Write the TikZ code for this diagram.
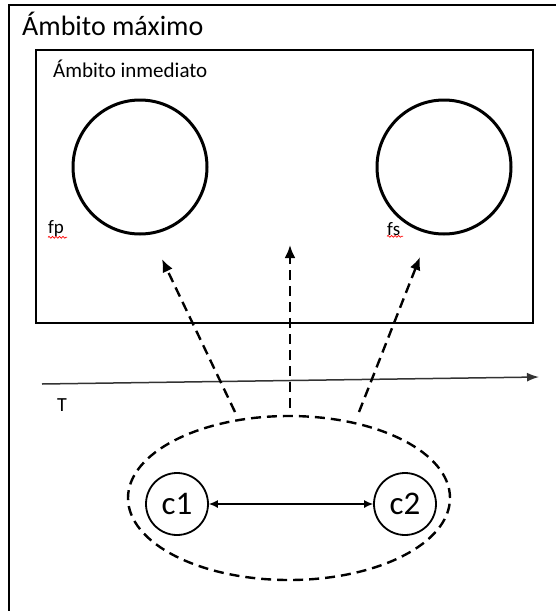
\documentclass[tikz,border=0pt]{standalone}
\usepackage{fontspec}
\setmainfont{Carlito}
\usetikzlibrary{arrows.meta,shapes.geometric,decorations.pathmorphing}

\tikzset{
  ringnode/.style={draw, circle, line width=3pt, minimum size=134pt, inner sep=0pt},
  cnode/.style={draw, circle, line width=1.8pt, minimum size=62pt, inner sep=0pt,
    font=\fontsize{33}{36}\selectfont},
  dasharrow/.style={line width=2.4pt, dash pattern=on 10pt off 6pt,
    -{Latex[length=13pt,width=11pt]}},
  typo/.style={red, line width=0.7pt, decorate,
    decoration={snake, amplitude=0.9pt, segment length=3.5pt}},
  lbl/.style={anchor=base west, inner sep=0pt}
}

\begin{document}
\begin{tikzpicture}[x=1pt, y=-1pt]
  \useasboundingbox (0,0) rectangle (556,611);
  \clip (0,0) rectangle (556,611);

  % outer and inner scope
  \draw[line width=2pt] (9,5) rectangle (600,650);
  \draw[line width=2.5pt] (36,50) rectangle (533,323);
  \node[lbl, font=\fontsize{28}{30}\selectfont] (maxtxt) at (22,35) {Ámbito máximo};
  \node[lbl, font=\fontsize{21}{24}\selectfont] (inmtxt) at (53,77) {Ámbito inmediato};

  % the two rings
  \node[ringnode] (fp) at (140,167) {};
  \node[ringnode] (fs) at (444,167) {};
  \node[lbl, font=\fontsize{19}{22}\selectfont] (fptxt) at (48,233) {fp};
  \node[lbl, font=\fontsize{19}{22}\selectfont] (fstxt) at (387,235) {fs};
  \draw[typo] (fptxt.south west) ++(0,1) -- ++(19,0);
  \draw[typo] (fstxt.south west) ++(0,1) -- ++(16,0);

  % time axis
  \coordinate (t0) at (42,384);
  \coordinate (t1) at (539,377);
  \draw[line width=1.5pt, black!80, -{Latex[length=12pt,width=9pt]}] (t0) -- (t1);
  \node[lbl, font=\fontsize{20}{22}\selectfont] (ttxt) at (57,411) {T};

  % c1, c2 and their group
  \node[draw, ellipse, line width=2.4pt, dash pattern=on 10pt off 6pt,
    minimum width=322pt, minimum height=164pt] (grp) at (289,498) {};
  \node[cnode] (c1) at (177,504) {c1};
  \node[cnode] (c2) at (405,504) {c2};
  \draw[line width=1.2pt, {Latex[length=9pt,width=8pt]}-{Latex[length=9pt,width=8pt]}]
    (c1) -- (c2);

  % arrows up from the group
  \coordinate (a1) at (235,412);
  \coordinate (a2) at (290,408);
  \coordinate (a3) at (359,412);
  \coordinate (b1) at (162,259);
  \coordinate (b2) at (290,245);
  \coordinate (b3) at (420,257);
  \draw[dasharrow] (a1) -- (b1);
  \draw[dasharrow] (a2) -- (b2);
  \draw[dasharrow] (a3) -- (b3);
\end{tikzpicture}
\end{document}
